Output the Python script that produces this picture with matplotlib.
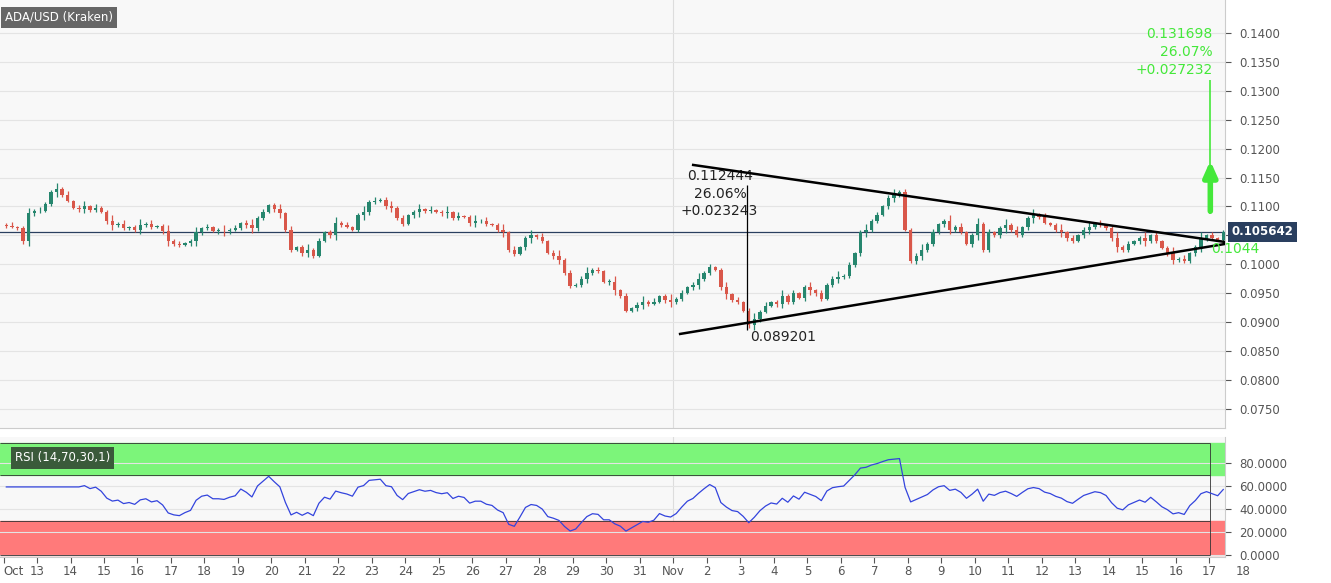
import numpy as np
import matplotlib
matplotlib.use("Agg")
import matplotlib.pyplot as plt

# 4-hour closes, six per day, from Oct 12 to Nov 17
closes = [
    0.1067, 0.1065, 0.1062, 0.1040, 0.1088, 0.1092,
    0.1093, 0.1105, 0.1125, 0.1130, 0.1120, 0.1110,
    0.1098, 0.1096, 0.1100, 0.1094, 0.1098, 0.1090,
    0.1075, 0.1068, 0.1070, 0.1062, 0.1064, 0.1060,
    0.1068, 0.1070, 0.1064, 0.1066, 0.1058, 0.1040,
    0.1035, 0.1033, 0.1037, 0.1040, 0.1055, 0.1062,
    0.1064, 0.1058, 0.1058, 0.1057, 0.1060, 0.1062,
    0.1072, 0.1068, 0.1062, 0.1080, 0.1090, 0.1102,
    0.1095, 0.1088, 0.1060, 0.1025, 0.1030, 0.1020,
    0.1025, 0.1015, 0.1040, 0.1055, 0.1050, 0.1072,
    0.1068, 0.1065, 0.1060, 0.1085, 0.1090, 0.1108,
    0.1110, 0.1112, 0.1100, 0.1098, 0.1080, 0.1070,
    0.1085, 0.1090, 0.1095, 0.1092, 0.1094, 0.1090,
    0.1088, 0.1090, 0.1080, 0.1084, 0.1082, 0.1072,
    0.1075, 0.1075, 0.1070, 0.1068, 0.1060, 0.1055,
    0.1025, 0.1018, 0.1030, 0.1045, 0.1050, 0.1048,
    0.1040, 0.1020, 0.1015, 0.1008, 0.0985, 0.0962,
    0.0965, 0.0975, 0.0985, 0.0990, 0.0988, 0.0970,
    0.0970, 0.0955, 0.0945, 0.0920, 0.0925, 0.0930,
    0.0935, 0.0932, 0.0935, 0.0945, 0.0938, 0.0935,
    0.0940, 0.0950, 0.0960, 0.0965, 0.0975, 0.0985,
    0.0995, 0.0990, 0.0960, 0.0948, 0.0938, 0.0935,
    0.0920, 0.0895, 0.0905, 0.0918, 0.0928, 0.0935,
    0.0932, 0.0945, 0.0935, 0.0950, 0.0942, 0.0960,
    0.0955, 0.0950, 0.0940, 0.0965, 0.0975, 0.0978,
    0.0980, 0.0998, 0.1020, 0.1055, 0.1060, 0.1075,
    0.1085, 0.1100, 0.1115, 0.1120, 0.1125, 0.1060,
    0.1005, 0.1015, 0.1025, 0.1035, 0.1055, 0.1070,
    0.1075, 0.1060, 0.1065, 0.1055, 0.1035, 0.1050,
    0.1070, 0.1025, 0.1055, 0.1050, 0.1062, 0.1068,
    0.1060, 0.1050, 0.1065, 0.1080, 0.1085, 0.1082,
    0.1072, 0.1068, 0.1060, 0.1055, 0.1045, 0.1040,
    0.1050, 0.1060, 0.1065, 0.1070, 0.1068, 0.1062,
    0.1045, 0.1030, 0.1025, 0.1035, 0.1040, 0.1045,
    0.1040, 0.1050, 0.1040, 0.1028, 0.1020, 0.1008,
    0.1010, 0.1005, 0.1020, 0.1030, 0.1045, 0.1050,
    0.1046, 0.1042, 0.1056,
]
first_open = 0.1068
wick_up = [0.0003, 0.0006, 0.0002, 0.0004, 0.0010]
wick_dn = [0.0004, 0.0002, 0.0008, 0.0003, 0.0005]

last_price = 0.105642
day_ticks = [12] + list(range(13, 32)) + [32] + list(range(33, 49))
day_labels = ["Oct"] + [str(d) for d in range(13, 32)] + ["Nov"] + [str(d) for d in range(2, 18)]
price_ticks = [0.075 + 0.005 * i for i in range(14)]
rsi_ticks = [0, 20, 40, 60, 80]

# trend lines (day, price)
upper_line = ([32.59, 48.47], [0.11718, 0.10386])
lower_line = ([32.20, 48.47], [0.08796, 0.10352])

closes = np.array(closes)
opens = np.concatenate([[first_open], closes[:-1]])
t = 12 + np.arange(len(closes)) / 6.0 + 1 / 12.0
highs = np.maximum(opens, closes) + np.array([wick_up[i % 5] for i in range(len(closes))])
lows = np.minimum(opens, closes) - np.array([wick_dn[(i * 3) % 5] for i in range(len(closes))])

# RSI 14 (Wilder)
delta = np.diff(np.concatenate([[first_open], closes]))
gain = np.clip(delta, 0, None)
loss = np.clip(-delta, 0, None)
ag, al = gain[:14].mean(), loss[:14].mean()
rsi = []
for i in range(len(closes)):
    if i >= 14:
        ag = (ag * 13 + gain[i]) / 14
        al = (al * 13 + loss[i]) / 14
    rsi.append(100 - 100 / (1 + ag / max(al, 1e-9)))
rsi = np.array(rsi)

bg = "#f8f8f8"
fig = plt.figure(figsize=(13.31, 5.83), dpi=100, facecolor="white")
ax = fig.add_axes([0, 0.2659, 0.9204, 0.7341], facecolor=bg)
ax2 = fig.add_axes([0, 0.0446, 0.9204, 0.2058], facecolor=bg)

xlim = (11.895, 48.47)
for a in (ax, ax2):
    a.set_xlim(*xlim)
    a.axvline(32, color="#dddddd", lw=0.8, zorder=0)
    for s in ["top", "left"]:
        a.spines[s].set_visible(False)
    a.spines["right"].set_color("#cccccc")
    a.spines["bottom"].set_color("#cccccc")
    a.yaxis.tick_right()
    a.tick_params(axis="y", length=4, colors="#555555", labelsize=8.5, pad=6)

ax.set_ylim(0.0717, 0.1457)
ax.set_yticks(price_ticks)
# the 0.1050 label sits under the last-price box
ax.set_yticklabels(["" if abs(p - 0.105) < 1e-6 else "%.4f" % p for p in price_ticks])
ax.grid(axis="y", color="#e4e4e4", lw=0.8)
ax.set_axisbelow(True)
ax.set_xticks([])

green, red = "#26866e", "#d9574a"
w = 0.6 / 6
for i in range(len(closes)):
    c = green if closes[i] >= opens[i] else red
    ax.vlines(t[i], lows[i], highs[i], color=c, lw=0.9, zorder=3)
    ax.bar(t[i], max(abs(closes[i] - opens[i]), 0.00005), bottom=min(opens[i], closes[i]),
           width=w, color=c, zorder=4)

ax.axhline(last_price, color="#2a3f5f", lw=0.9, zorder=2)
ax.plot(*upper_line, color="black", lw=1.8, zorder=5)
ax.plot(*lower_line, color="black", lw=1.8, zorder=5)

# measurement annotation
ax.vlines(34.2, 0.08865, 0.11372, color="black", lw=0.9, zorder=5)
ax.text(32.4, 0.11465, "0.112444", fontsize=10, color="#222222")
ax.text(34.2, 0.11155, "26.06%", fontsize=10, color="#222222", ha="right")
ax.text(32.2, 0.10845, "+0.023243", fontsize=10, color="#222222")
ax.text(34.3, 0.0868, "0.089201", fontsize=10, color="#222222")

lime = "#44e83a"
ax.vlines(48.03, 0.1087, 0.1319, color=lime, lw=1.2, zorder=6)
ax.annotate("", xy=(48.03, 0.1184), xytext=(48.03, 0.1087),
            arrowprops=dict(arrowstyle="-|>,head_width=0.4,head_length=0.9", color=lime, lw=4), zorder=6)
for yv, s in [(0.1391, "0.131698"), (0.1360, "26.07%"), (0.1329, "+0.027232")]:
    ax.text(48.1, yv, s, color=lime, fontsize=10, ha="right")
ax.text(48.05, 0.1026, "0.1044", color=lime, fontsize=10, va="center", clip_on=False, zorder=7)

ax.text(1.005, (last_price - 0.0717) / (0.1457 - 0.0717), "0.105642", transform=ax.transAxes,
        fontsize=8.5, color="white", fontweight="bold", va="center",
        bbox=dict(boxstyle="square,pad=0.3", fc="#2a3f5f", ec="none"))
ax.text(0.004, 0.975, "ADA/USD (Kraken)", transform=ax.transAxes, fontsize=8.5, color="white",
        va="top", bbox=dict(boxstyle="square,pad=0.35", fc="#666666", ec="none"))

ax2.set_ylim(-1.7, 102.6)
ax2.set_yticks(rsi_ticks)
ax2.set_yticklabels(["%.4f" % v for v in rsi_ticks])
ax2.axhspan(70, 97, color="#7cf57a", zorder=0)
ax2.axhspan(0, 30, color="#ff7a7a", zorder=0)
ax2.hlines([70, 97], xlim[0], 48.03, color="#333333", lw=0.6)
ax2.hlines([0, 30], xlim[0], 48.03, color="#333333", lw=0.6)
ax2.vlines(48.03, 0, 97, color="#333333", lw=0.6)
ax2.grid(axis="y", color="#e4e4e4", lw=0.8)
ax2.plot(t, rsi, color="#3344dd", lw=0.9, zorder=3)
ax2.text(0.012, 0.88, "RSI (14,70,30,1)", transform=ax2.transAxes, fontsize=8.5, color="white",
         va="top", bbox=dict(boxstyle="square,pad=0.35", fc="#3a5a3a", ec="none"))
ax2.set_xticks(day_ticks)
ax2.set_xticklabels(day_labels)
ax2.tick_params(axis="x", length=4, colors="#555555", labelsize=8.5, pad=2)
ax2.get_xticklabels()[0].set_ha("left")
ax2.text(49, -0.07, "18", transform=ax2.get_xaxis_transform(), fontsize=8.5, color="#555555",
         ha="center", va="top", clip_on=False)

fig.savefig("out.png", dpi=100, facecolor="white")
